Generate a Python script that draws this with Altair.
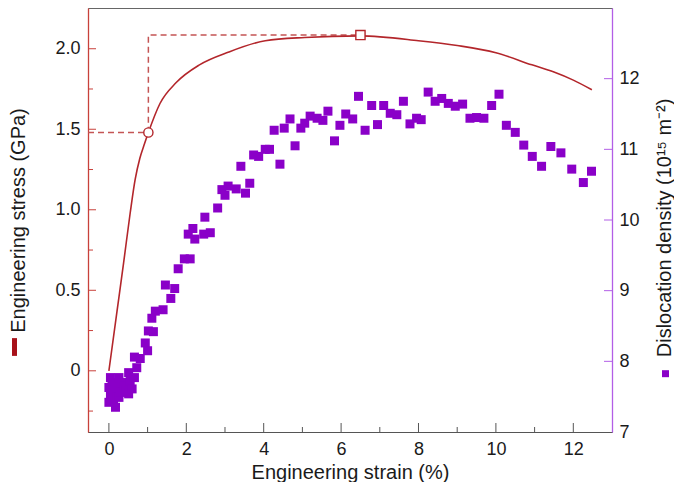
import altair as alt
import pandas as pd

# ---------------- data ----------------
curve_strain = [0, 0.21, 0.38, 0.55, 0.68, 0.80, 0.92, 1.02, 1.32, 1.74, 2.34, 3.1,
                4.04, 5.06, 6.5, 8.0, 9.0, 10.0, 10.93, 11.5, 12.0, 12.48]
curve_stress = [0, 0.37, 0.67, 0.98, 1.19, 1.32, 1.41, 1.48, 1.66, 1.79, 1.90, 1.98,
                2.05, 2.07, 2.08, 2.05, 2.02, 1.975, 1.90, 1.855, 1.805, 1.745]

dash_strain = [-0.54, 1.02, 1.02, 6.5]
dash_stress = [1.48, 1.48, 2.085, 2.085]

marker_strain = [1.02, 6.5]
marker_stress = [1.48, 2.085]
marker_shape = ["circle", "square"]

scatter_strain = [
    0.00, 0.00, 0.04, 0.04, 0.08, 0.10, 0.12, 0.17, 0.17, 0.22, 0.26, 0.26, 0.30, 0.35,
    0.38, 0.45, 0.51, 0.51, 0.55, 0.60, 0.66, 0.66, 0.72, 0.81,
    0.94, 1.00, 1.02, 1.15, 1.11, 1.20, 1.40, 1.46, 1.60, 1.70, 1.79, 1.95, 2.10, 2.05,
    2.17, 2.22, 2.45, 2.62, 2.48, 2.81, 2.92, 3.00, 3.08, 3.29, 3.41, 3.53, 3.64, 3.74,
    3.87, 4.04, 4.15, 4.27, 4.42,
    4.53, 4.68, 4.81, 4.96, 5.06, 5.20, 5.38, 5.53, 5.66, 5.83, 5.97, 6.12, 6.30, 6.45,
    6.62, 6.79, 6.94, 7.10, 7.27, 7.44, 7.61, 7.78, 7.95, 8.07, 8.25, 8.43, 8.60, 8.77,
    8.95, 9.14, 9.33, 9.50, 9.69, 9.89, 10.08, 10.27, 10.50, 10.72, 10.94, 11.18, 11.42,
    11.68, 11.96, 12.26, 12.47]
scatter_density = [
    7.42, 7.63, 7.54, 7.77, 7.70, 7.60, 7.45, 7.35, 7.68, 7.50, 7.77, 7.49, 7.56, 7.70,
    7.65, 7.58, 7.54, 7.84, 7.72, 7.61, 7.77, 8.06, 7.91, 8.04,
    8.26, 8.15, 8.43, 8.42, 8.61, 8.71, 8.73, 9.08, 8.89, 9.03, 9.31, 9.45, 9.45, 9.80,
    9.88, 9.73, 9.80, 9.82, 10.04, 10.17, 10.43, 10.35, 10.48, 10.44, 10.76, 10.38, 10.52, 10.92,
    10.90, 11.00, 11.00, 11.27, 10.79,
    11.30, 11.43, 11.05, 11.30, 11.37, 11.47, 11.44, 11.41, 11.54, 11.12, 11.34, 11.50, 11.43, 11.75,
    11.27, 11.62, 11.35, 11.62, 11.51, 11.49, 11.68, 11.36, 11.44, 11.42, 11.81, 11.68, 11.72, 11.65,
    11.61, 11.64, 11.44, 11.45, 11.44, 11.62, 11.78, 11.34, 11.24, 11.06, 10.90, 10.76, 11.04,
    10.95, 10.72, 10.53, 10.69]

x_major = [0, 2, 4, 6, 8, 10, 12]
x_minor = [1, 3, 5, 7, 9, 11]
stress_major = [0, 0.5, 1.0, 1.5, 2.0]
stress_minor = [-0.25, 0.25, 0.75, 1.25, 1.75]
density_labels = [7, 8, 9, 10, 11, 12]
density_major = [8, 9, 10, 11, 12]

# ---------------- styling ----------------
W, H = 524, 424
RED = "#b3262b"
RED_AX = "#c8413b"
RED_DASH = "#c45454"
RED_LEG = "#a8121a"
PURPLE = "#8a00c8"
PURPLE_AX = "#b25ee6"
GREY = "#555555"
FONT = "Liberation Sans"

df_curve = pd.DataFrame({"strain": curve_strain, "stress": curve_stress})
df_dash = pd.DataFrame({"strain": dash_strain, "stress": dash_stress, "i": list(range(len(dash_strain)))})
df_mark = pd.DataFrame({"strain": marker_strain, "stress": marker_stress, "shape": marker_shape})
df_scatter = pd.DataFrame({"strain": scatter_strain, "density": scatter_density})

xs = alt.Scale(domain=[-0.54, 13.0], nice=False, zero=False)
ys = alt.Scale(domain=[-0.38, 2.253], nice=False, zero=False)
ds = alt.Scale(domain=[7, 13], nice=False, zero=False)

xaxis = alt.Axis(values=x_major, format="d", title="Engineering strain (%)",
                 domainColor=GREY, domainWidth=1, ticks=False, tickSize=0,
                 labelPadding=8, titleY=46, titleBaseline="alphabetic")
yaxis_l = alt.Axis(values=stress_major, orient="left",
                   labelExpr="datum.value == 0 ? '0' : format(datum.value, '.1f')",
                   title="Engineering stress (GPa)", domainColor=RED_AX, domainWidth=1.3,
                   ticks=False, tickSize=0, labelPadding=8,
                   titleX=-70, titleY=H / 2, titleAngle=270, titleAlign="center",
                   titleBaseline="middle")
yaxis_r = alt.Axis(values=density_labels, orient="right", format="d",
                   title="Dislocation density (10¹⁵ m⁻²)", domainColor=PURPLE_AX,
                   domainWidth=1.3, ticks=False, tickSize=0, labelPadding=7,
                   titleX=52, titleY=H * 222 / 429, titleAngle=270, titleAlign="center",
                   titleBaseline="middle")

X = alt.X("strain:Q", scale=xs, axis=xaxis)
YL = alt.Y("stress:Q", scale=ys, axis=yaxis_l)
YR = alt.Y("density:Q", scale=ds, axis=yaxis_r)

dashed = alt.Chart(df_dash).mark_line(color=RED_DASH, strokeWidth=1.5, strokeDash=[6, 4]).encode(
    X, YL, order="i:O")
curve = alt.Chart(df_curve).mark_line(color=RED, strokeWidth=1.6, interpolate="monotone").encode(X, YL)
markers = alt.Chart(df_mark).mark_point(fill="white", fillOpacity=1, stroke=RED, strokeWidth=1.4,
                                        size=85, opacity=1).encode(
    X, YL, shape=alt.Shape("shape:N", scale=alt.Scale(domain=marker_shape, range=marker_shape), legend=None))

xmaj = alt.Chart(pd.DataFrame({"strain": x_major})).mark_rule(color=GREY, strokeWidth=1).encode(
    X, y=alt.value(H), y2=alt.value(H - 9))
xmin = alt.Chart(pd.DataFrame({"strain": x_minor})).mark_rule(color=GREY, strokeWidth=1).encode(
    X, y=alt.value(H), y2=alt.value(H - 5))
lmaj = alt.Chart(pd.DataFrame({"stress": stress_major})).mark_rule(color=RED_AX, strokeWidth=1).encode(
    YL, x=alt.value(0), x2=alt.value(8))
lmin = alt.Chart(pd.DataFrame({"stress": stress_minor})).mark_rule(color=RED_AX, strokeWidth=1).encode(
    YL, x=alt.value(0), x2=alt.value(5))
leg_bar = alt.Chart(pd.DataFrame({"k": [0]})).mark_rule(color=RED_LEG, strokeWidth=5).encode(
    x=alt.value(-73.5), y=alt.value(H * 334 / 429), y2=alt.value(H * 352 / 429))

scatter = alt.Chart(df_scatter).mark_square(color=PURPLE, size=81, opacity=1).encode(X, YR)
rmaj = alt.Chart(pd.DataFrame({"density": density_major})).mark_rule(color=PURPLE_AX, strokeWidth=1).encode(
    YR, x=alt.value(W), x2=alt.value(W - 8))
leg_sq = alt.Chart(pd.DataFrame({"k": [0]})).mark_square(color=PURPLE, size=49, opacity=1).encode(
    x=alt.value(W + 53.5), y=alt.value(H * 370 / 429))

left = alt.layer(dashed, curve, markers, xmaj, xmin, lmaj, lmin, leg_bar)
right = alt.layer(scatter, rmaj, leg_sq)

chart = alt.layer(left, right).resolve_scale(y="independent").properties(
    width=W, height=H, padding={"left": 0, "top": 0, "right": 0, "bottom": 0}
).configure(font=FONT).configure_view(stroke="#666666", strokeWidth=1).configure_axis(
    grid=False, labelFont=FONT, titleFont=FONT, labelFontSize=18, titleFontSize=20,
    titleFontWeight="normal", labelColor="#1a1a1a", titleColor="#1a1a1a"
)

chart.save("out.html", embed_options={"renderer": "svg", "actions": False})
